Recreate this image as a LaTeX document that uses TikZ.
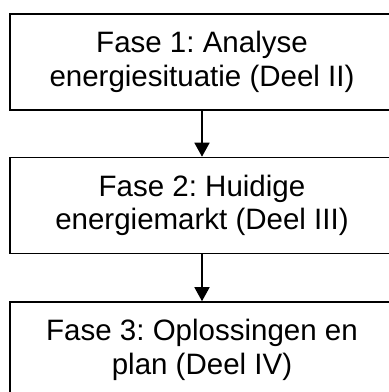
\documentclass[tikz,border=0pt]{standalone}
\usepackage{fontspec}
\setmainfont{Liberation Sans}
\usetikzlibrary{arrows.meta}
\frenchspacing
\begin{document}
\begin{tikzpicture}[x=1pt,y=-1pt,
  phase/.style={draw, line width=1.6pt, minimum width=384pt, minimum height=96pt, inner sep=0pt, align=center, font=\fontsize{29.5}{33.5}\selectfont},
  conn/.style={line width=1.6pt, -{Triangle[length=14pt,width=15pt]}}]
\useasboundingbox (0,0) rectangle (389,392);
\node[phase] (f1) at (202,62) {Fase 1: Analyse\\energiesituatie (Deel II)};
\node[phase] (f2) at (202,205.5) {Fase 2: Huidige\\energiemarkt (Deel III)};
\node[phase] (f3) at (202,350) {Fase 3: Oplossingen en\\plan (Deel IV)};
\draw[conn] (f1) -- (f2);
\draw[conn] (f2) -- (f3);
\end{tikzpicture}
\end{document}
